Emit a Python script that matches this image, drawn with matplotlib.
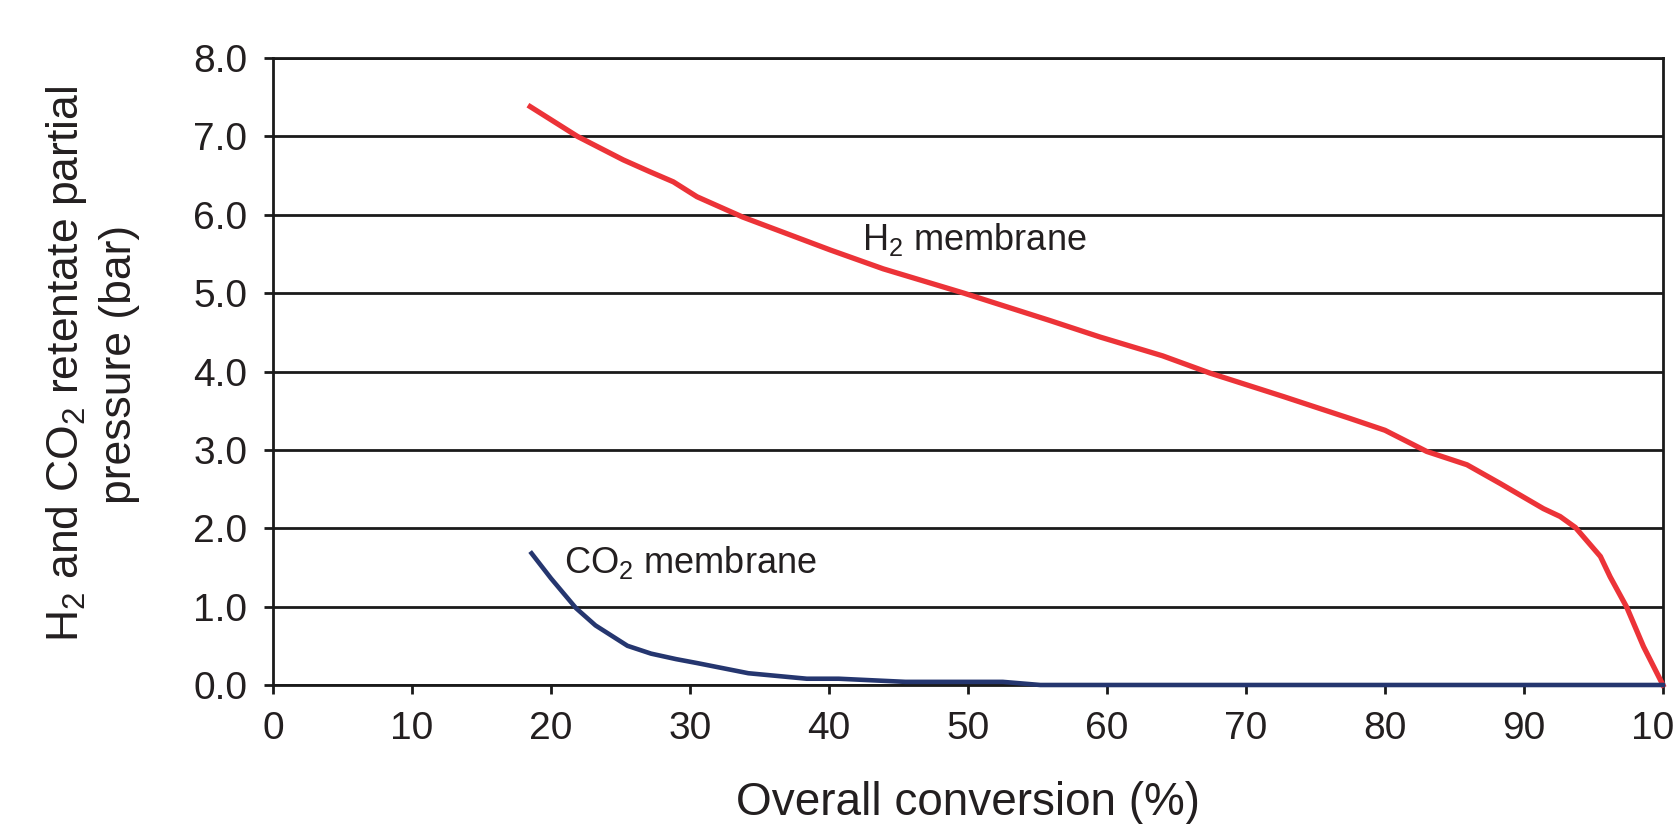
import numpy as np
import matplotlib.pyplot as plt

# Retentate partial pressure vs overall conversion, H2 and CO2 membranes

h2_conv = [18.5, 21.9, 25.2, 27.1, 28.8, 30.5, 33.8, 40.1, 43.9, 49.7, 55.9, 59.5,
           64.0, 67.4, 72.7, 77.5, 80.0, 83.0, 85.9, 88.3, 91.4, 92.6, 93.7, 95.5,
           96.2, 97.4, 98.6, 100.0]
h2_pres = [7.38, 7.00, 6.70, 6.55, 6.42, 6.23, 5.97, 5.55, 5.31, 5.00, 4.65, 4.44,
           4.20, 3.98, 3.68, 3.40, 3.25, 2.98, 2.81, 2.57, 2.25, 2.15, 2.01, 1.64,
           1.38, 0.99, 0.49, 0.00]

co2_conv = [18.6, 20.0, 21.8, 23.2, 25.5, 27.2, 29.0, 30.5, 34.2, 38.4, 40.7, 45.5,
            52.5, 55.2, 60.0, 70.0, 80.0, 90.0, 95.0, 100.0]
co2_pres = [1.68, 1.36, 0.98, 0.76, 0.50, 0.40, 0.33, 0.28, 0.15, 0.08, 0.08, 0.04,
            0.04, 0.00, 0.00, 0.00, 0.00, 0.00, 0.00, 0.00]

x_ticks = np.arange(0, 101, 10)
y_ticks = np.arange(0, 8.01, 1.0)

txt = '#231f20'
plt.rcParams['font.family'] = ['Liberation Sans', 'DejaVu Sans']
plt.rcParams['mathtext.fontset'] = 'custom'
plt.rcParams['mathtext.rm'] = 'Liberation Sans'
plt.rcParams['mathtext.default'] = 'regular'

fig = plt.figure(figsize=(16.73, 8.24), dpi=100)
ax = fig.add_axes([0.1632, 0.1687, 0.8308, 0.7609])

ax.plot(h2_conv, h2_pres, color='#ec3338', lw=3.8, clip_on=False, zorder=4)
ax.plot(co2_conv, co2_pres, color='#25366f', lw=3.3, clip_on=False, zorder=5)

ax.set_xlim(0, 100)
ax.set_ylim(0, 8)
ax.set_xticks(x_ticks)
ax.set_yticks(y_ticks)
ax.set_yticklabels([f'{v:.1f}' for v in y_ticks])
ax.grid(axis='y', color='#1a1a1a', lw=2.0)
ax.set_axisbelow(True)
for s in ax.spines.values():
    s.set_color('#1a1a1a')
    s.set_linewidth(2.0)
ax.tick_params(direction='out', length=6.5, width=2.0, color='#1a1a1a',
               labelsize=28, labelcolor=txt, pad=12)

ax.set_xlabel('Overall conversion (%)', fontsize=33, color=txt, labelpad=25)
fig.text(0.055, 0.558, 'H$_2$ and CO$_2$ retentate partial\npressure (bar)',
         rotation=90, ha='center', va='center', multialignment='center',
         fontsize=32, color=txt, linespacing=1.3)

ax.text(42.4, 5.55, 'H$_2$ membrane', fontsize=26, color=txt, ha='left', va='baseline')
ax.text(20.9, 1.43, 'CO$_2$ membrane', fontsize=26, color=txt, ha='left', va='baseline')

plt.savefig('out.png', dpi=100)
